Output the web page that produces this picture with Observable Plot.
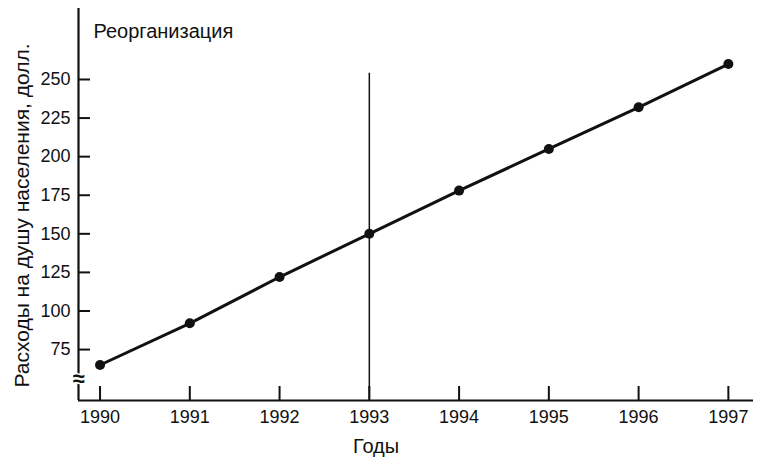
<!DOCTYPE html>
<html><head><meta charset="utf-8">
<script src="https://cdn.jsdelivr.net/npm/d3@7"></script>
<script src="https://cdn.jsdelivr.net/npm/@observablehq/plot@0.6"></script>
<style>
body{margin:0;background:#fff;}
svg{font-family:"Liberation Sans",Arial,sans-serif;}
</style>
</head><body><div id="chart"></div>
<script>
const years = [1990, 1991, 1992, 1993, 1994, 1995, 1996, 1997];
const spending = [65, 92, 122, 150, 178, 205, 232, 260];
const yTicks = [75, 100, 125, 150, 175, 200, 225, 250];
const xTicks = years;
const markerYear = 1993;
const markerTop = 254;
const titleText = "Реорганизация";
const yLabel = "Расходы на душу населения, долл.";
const xLabel = "Годы";

const xDomain = [1989.76, 1997.28];
const yDomain = [42, 296];

const data = years.map((y, i) => ({year: y, value: spending[i]}));

const chart = Plot.plot({
  width: 771, height: 476,
  marginLeft: 78, marginTop: 8, marginRight: 18, marginBottom: 76,
  style: {fontFamily: "'Liberation Sans', Arial, sans-serif", background: "#fff", color: "#111"},
  x: {domain: xDomain},
  y: {domain: yDomain},
  marks: [
    Plot.axisY({ticks: yTicks, tickSize: -12, tickPadding: 20, strokeWidth: 2, fontSize: 18, tickFormat: d => String(d), label: null}),
    Plot.axisX({ticks: xTicks, tickSize: -14, tickPadding: 24, strokeWidth: 2, fontSize: 18, tickFormat: d => String(d), label: null}),
    Plot.ruleX([xDomain[0]], {strokeWidth: 2.2, stroke: "#111"}),
    Plot.ruleY([yDomain[0]], {strokeWidth: 2.2, stroke: "#111"}),
    Plot.ruleX([markerYear], {y1: yDomain[0], y2: markerTop, strokeWidth: 1.5, stroke: "#111"}),
    Plot.text(["≈"], {x: xDomain[0], y: 56, fontSize: 22, fontWeight: "bold", fill: "#111", stroke: "white", strokeWidth: 3}),
    Plot.line(data, {x: "year", y: "value", stroke: "#111", strokeWidth: 3}),
    Plot.dot(data, {x: "year", y: "value", r: 5, fill: "#111", stroke: "none"}),
    Plot.text([titleText], {frameAnchor: "top-left", dx: 15, dy: 15, fontSize: 20, textAnchor: "start", fill: "#111", letterSpacing: "1px"}),
    Plot.text([yLabel], {frameAnchor: "left", dx: -56, dy: 11, rotate: -90, textAnchor: "middle", fontSize: 21, fill: "#111", letterSpacing: "0.5px"}),
    Plot.text([xLabel], {frameAnchor: "bottom", dx: -40, dy: 52, fontSize: 20, fill: "#111", letterSpacing: "0.5px"})
  ]
});
document.getElementById("chart").appendChild(chart);
</script>
</body></html>
